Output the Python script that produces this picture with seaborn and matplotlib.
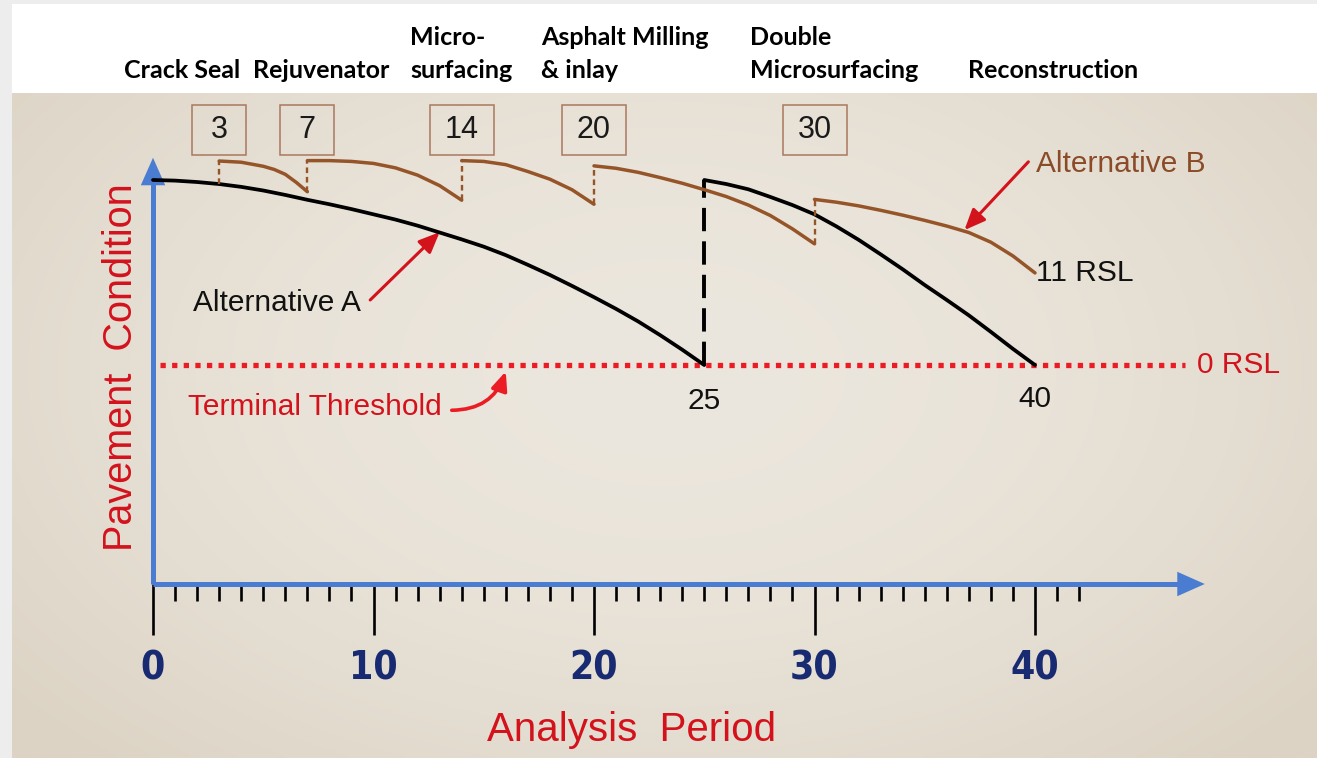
import numpy as np
import matplotlib
matplotlib.use("Agg")
import matplotlib.pyplot as plt
import seaborn as sns
from matplotlib import font_manager as fm
from matplotlib.patches import Rectangle
from matplotlib.ticker import FixedLocator

# ---------------------------------------------------------------
# data (years on x, pavement condition index on y)
# ---------------------------------------------------------------
A1_YEARS = [0, 1, 2, 3, 4, 5, 6, 7, 8, 9, 10, 11, 12, 13, 14, 15, 16, 17,
            18, 19, 20, 21, 22, 23, 24, 25]
A1_COND = [100, 99.85, 99.5, 99.0, 98.3, 97.4, 96.3, 95.1, 94.0, 92.8, 91.5,
           90.2, 88.7, 87.0, 85.3, 83.5, 81.4, 79.0, 76.5, 73.8, 71.0, 68.1,
           65.0, 61.6, 58.0, 54.2]

A2_YEARS = [25, 26, 27, 28, 29, 30, 31, 32, 33, 34, 35, 36, 37, 38, 39, 40]
A2_COND = [100, 99.0, 97.7, 95.8, 93.8, 91.5, 88.5, 85.2, 81.6, 77.9, 74.0,
           70.3, 66.5, 62.4, 58.2, 54.2]

# alternative B: repeated year = treatment jump
B_YEARS = [3, 3, 4, 5, 5.5, 6, 6.5, 7,
           7, 8, 9, 10, 11, 12, 13, 14,
           14, 15, 16, 17, 18, 19, 20,
           20, 21, 22, 23, 24, 25, 26, 27, 28, 29, 30,
           30, 31, 32, 33, 34, 35, 36, 37, 38, 39, 40]
B_COND = [99.0, 104.7, 104.4, 103.4, 102.6, 101.4, 99.4, 97.1,
          104.8, 104.8, 104.6, 104.1, 103.0, 101.2, 98.6, 95.0,
          104.8, 104.6, 103.8, 102.1, 100.2, 97.6, 94.0,
          103.5, 102.9, 101.9, 100.6, 99.2, 97.6, 95.9, 93.8, 91.2, 87.9, 84.2,
          95.2, 94.5, 93.6, 92.5, 91.3, 90.0, 88.6, 87.0, 84.6, 81.2, 77.0]

THRESHOLD = 54.2
RECON_YEAR = 25
TREATMENT_YEARS = [3, 7, 14, 20, 30]
TREATMENT_NAMES = ["Crack Seal", "Rejuvenator", "Micro-\nsurfacing",
                   "Asphalt Milling\n& inlay", "Double\nMicrosurfacing",
                   "Reconstruction"]
MAJOR_TICKS = [0, 10, 20, 30, 40]
MINOR_TICKS = [t for t in range(1, 43) if t % 10]

# ---------------------------------------------------------------
# layout / style
# ---------------------------------------------------------------
W, H = 1317, 758
PX0, PX_PER_YEAR = 153, 22.05
PY0, PX_PER_UNIT = 584, 4.04
X_AXIS_END = 47.0
Y_AXIS_END = 103.5

BLUE = "#4a7dd2"
RED = "#d3121c"
DOT_RED = "#ec1c24"
BROWN = "#965528"
BROWN_TXT = "#8c4b28"
BOX_EC = "#aa785f"
NAVY = "#172a72"

sns.set_style("white")
plt.rcParams["font.family"] = ["Liberation Sans", "DejaVu Sans"]

names = {f.name for f in fm.fontManager.ttflist}
dejavu_cond = any(f.name == "DejaVu Sans" and str(f.stretch) == "condensed"
                  for f in fm.fontManager.ttflist)
if "Liberation Sans Narrow" in names:
    tick_font = dict(family="Liberation Sans Narrow", stretch="normal")
elif dejavu_cond:
    tick_font = dict(family="DejaVu Sans", stretch="condensed")
else:
    tick_font = dict(family="Roboto", stretch="normal")
top_family = "Lato" if "Lato" in names else "Open Sans"

fig = plt.figure(figsize=(W / 100, H / 100), dpi=100, facecolor="#ededed")

# background: paper + white header strip (pixel coordinates)
bg = fig.add_axes([0, 0, 1, 1], zorder=0)
gy, gx = np.mgrid[0:1:200j, 0:1:350j]
r = np.sqrt(((gx - 0.5) / 0.65) ** 2 + ((gy - 0.42) / 0.8) ** 2)
t = (np.clip(r, 0, 1) ** 1.8)[..., None]
c_in = np.array([236, 231, 222]) / 255
c_out = np.array([220, 211, 196]) / 255
bg.imshow(c_in * (1 - t) + c_out * t, extent=(12, W, H, 93),
          aspect="auto", interpolation="bilinear")
bg.add_patch(Rectangle((12, 4), W - 12, 89, fc="white", ec="none"))
bg.set_xlim(0, W)
bg.set_ylim(H, 0)
bg.set_axis_off()

# treatment names in the header
name_x = [124, 253, 410, 541, 750, 968]
for x, name in zip(name_x, TREATMENT_NAMES):
    lines = name.split("\n")
    for k, line in enumerate(reversed(lines)):
        bg.text(x, 78 - 33 * k, line, fontsize=18, fontweight="bold",
                family=top_family, ha="left", va="baseline", color="black")

# main axes
ax = fig.add_axes([0, 0, 1, 1], zorder=1)
ax.patch.set_visible(False)
ax.set_xlim(-PX0 / PX_PER_YEAR, (W - PX0) / PX_PER_YEAR)
ax.set_ylim((PY0 - H) / PX_PER_UNIT, PY0 / PX_PER_UNIT)

for side in ["top", "right"]:
    ax.spines[side].set_visible(False)
for side, end in [("left", Y_AXIS_END), ("bottom", X_AXIS_END)]:
    sp = ax.spines[side]
    sp.set_position(("data", 0))
    sp.set_bounds(0, end)
    sp.set_color(BLUE)
    sp.set_linewidth(3.6)
    sp.set_capstyle("butt")

head = dict(arrowstyle="-|>,head_length=0.9,head_width=0.4", color=BLUE,
            lw=0, mutation_scale=22, shrinkA=0, shrinkB=0)
ax.annotate("", xy=(X_AXIS_END + 0.7, 0), xytext=(X_AXIS_END - 0.3, 0),
            arrowprops=head, annotation_clip=False)
ax.annotate("", xy=(0, Y_AXIS_END + 2.0), xytext=(0, Y_AXIS_END - 1),
            arrowprops=head, annotation_clip=False)

ax.set_xticks(MAJOR_TICKS)
ax.xaxis.set_minor_locator(FixedLocator(MINOR_TICKS))
ax.set_yticks([])
ax.tick_params(axis="x", which="major", direction="out", length=37,
               width=1.9, color="black", pad=10, labelsize=28,
               labelcolor=NAVY, bottom=True)
ax.tick_params(axis="x", which="minor", direction="out", length=12,
               width=1.9, color="black", bottom=True)
for lab in ax.get_xticklabels():
    lab.set_fontweight("bold")
    lab.set_fontfamily(tick_font["family"])
    lab.set_fontstretch(tick_font["stretch"])

ax.set_ylabel("Pavement  Condition", fontsize=28.5, color=RED, va="center")
ax.yaxis.set_label_coords(121 / W, 1 - 367 / H)
ax.set_xlabel("Analysis  Period", fontsize=29, color=RED, va="center")
ax.xaxis.set_label_coords(632 / W, 1 - 730 / H)

# terminal threshold
ax.hlines(THRESHOLD, 0.3, 46.8, colors=DOT_RED, lw=3.8,
          linestyles=(0, (1.0, 1.2)), zorder=3)

# alternative A
sns.lineplot(x=A1_YEARS, y=A1_COND, ax=ax, color="black", lw=2.7,
             estimator=None, sort=False, zorder=4)
sns.lineplot(x=A2_YEARS, y=A2_COND, ax=ax, color="black", lw=2.7,
             estimator=None, sort=False, zorder=4)
ax.vlines(RECON_YEAR, THRESHOLD, A2_COND[0], colors="black", lw=2.8,
          linestyles=(0, (6, 2.6)), zorder=4)

# alternative B
by = np.array(B_YEARS, dtype=float)
bc = np.array(B_COND, dtype=float)
jumps = np.where(np.diff(by) == 0)[0]
starts = np.r_[0, jumps + 1]
ends = np.r_[jumps, len(by) - 1]
for s, e in zip(starts, ends):
    if e > s:
        sns.lineplot(x=by[s:e + 1], y=bc[s:e + 1], ax=ax, color=BROWN,
                     lw=2.5, estimator=None, sort=False, zorder=5)
for j in jumps:
    ax.plot([by[j], by[j + 1]], [bc[j], bc[j + 1]], color=BROWN, lw=1.7,
            linestyle=(0, (2.4, 1.6)), zorder=5)

# treatment year boxes
for yr in TREATMENT_YEARS:
    w = (54 if yr < 10 else 64) / PX_PER_YEAR
    ax.add_patch(Rectangle((yr - w / 2, 106.2), w, 12.4, fill=False,
                           ec=BOX_EC, lw=1.1, zorder=3))
    ax.text(yr, 112.4, str(yr), fontsize=22, ha="center", va="center",
            color="#1a1a1a")

# annotations
fs = 21.5
ax.text(1.8, 69.6, "Alternative A", fontsize=fs, ha="left", va="center",
        color="#111111")
ax.annotate("", xy=(13.0, 87.1), xytext=(9.85, 70.3),
            arrowprops=dict(arrowstyle="-|>,head_length=0.7,head_width=0.3",
                            color=RED, lw=2.2, mutation_scale=18,
                            shrinkA=0, shrinkB=0))
ax.text(40.05, 104.0, "Alternative B", fontsize=fs, ha="left", va="center",
        color=BROWN_TXT)
ax.annotate("", xy=(36.8, 87.6), xytext=(39.7, 104.5),
            arrowprops=dict(arrowstyle="-|>,head_length=0.7,head_width=0.3",
                            color=RED, lw=2.2, mutation_scale=18,
                            shrinkA=0, shrinkB=0))
ax.text(40.05, 77.0, "11 RSL", fontsize=fs, ha="left", va="center",
        color="#111111")
ax.text(47.35, THRESHOLD, "0 RSL", fontsize=fs, ha="left", va="center",
        color=RED)
ax.text(RECON_YEAR, 45.3, "25", fontsize=fs, ha="center", va="center",
        color="#111111")
ax.text(40, 45.8, "40", fontsize=fs, ha="center", va="center",
        color="#111111")
ax.text(1.6, 43.8, "Terminal Threshold", fontsize=fs, ha="left",
        va="center", color=RED)
ax.annotate("", xy=(16.0, 52.6), xytext=(13.55, 43.0),
            arrowprops=dict(arrowstyle="-|>,head_length=0.7,head_width=0.3",
                            color=DOT_RED, lw=2.6, mutation_scale=16,
                            shrinkA=0, shrinkB=0,
                            connectionstyle="arc3,rad=0.35"))

fig.savefig("out.png", dpi=100, facecolor=fig.get_facecolor())
